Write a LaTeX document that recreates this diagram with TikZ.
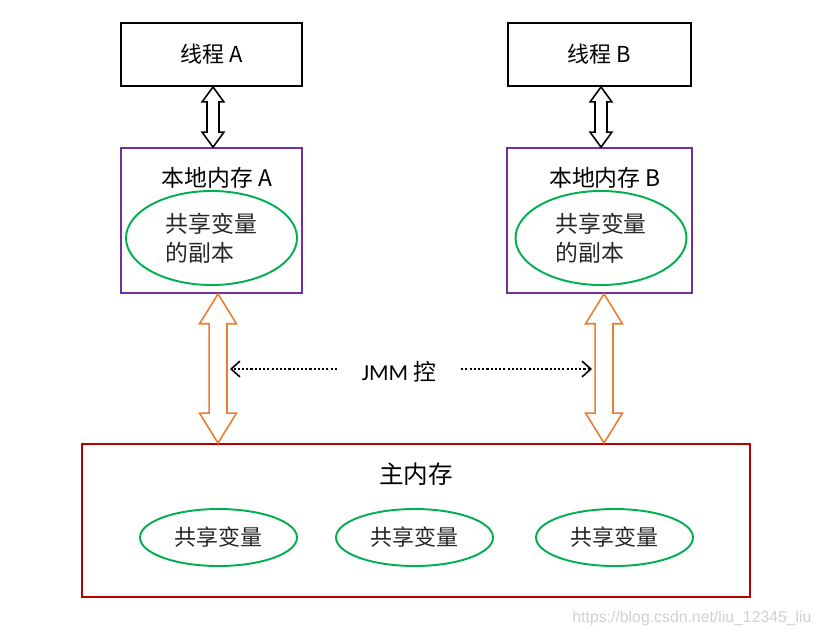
\documentclass[tikz,border=0pt]{standalone}
\usepackage{fontspec}
\setmainfont{Carlito}
\newfontfamily\cjk{Noto Sans CJK SC}
\newfontfamily\wmfont{Liberation Sans}
\usetikzlibrary{calc,arrows.meta,shapes.geometric}

\definecolor{localPurple}{HTML}{7030A0}
\definecolor{varGreen}{HTML}{00B050}
\definecolor{busOrange}{HTML}{ED7D31}
\definecolor{mainRed}{HTML}{B40000}

\newcommand{\px}{0.02cm}
% hollow vertical double arrow: style, top point, bottom point, half shaft, half head, head length
\newcommand{\hollowarrow}[6]{%
  \draw[#1] let \p1=(#2), \p2=(#3) in
    (\x1,\y1) -- (\x1+#5,\y1-#6) -- (\x1+#4,\y1-#6)
    -- (\x1+#4,\y2+#6) -- (\x1+#5,\y2+#6) -- (\x1,\y2)
    -- (\x1-#5,\y2+#6) -- (\x1-#4,\y2+#6)
    -- (\x1-#4,\y1-#6) -- (\x1-#5,\y1-#6) -- cycle;}

\begin{document}
\begin{tikzpicture}[x=0.02cm,y=-0.02cm,
    thread/.style={draw, line width=1.1pt, minimum width=181*\px,
      minimum height=63*\px, font=\fontsize{12.5}{15}\selectfont},
    local/.style={draw=localPurple, line width=1pt, minimum width=181*\px,
      minimum height=145*\px},
    title/.style={font=\fontsize{13}{15}\selectfont, inner sep=0pt},
    copyell/.style={ellipse, draw=varGreen, line width=1.1pt, minimum width=171*\px,
      minimum height=94*\px, inner sep=0pt, align=left,
      font=\fontsize{13}{16.5}\selectfont, text=black!85},
    mainbox/.style={draw=mainRed, line width=1.1pt, minimum width=668*\px,
      minimum height=153*\px},
    varell/.style={ellipse, draw=varGreen, line width=1.1pt, minimum width=157*\px,
      minimum height=57*\px, inner sep=0pt, font=\fontsize{12.5}{15}\selectfont,
      text=black!85},
    ctrl/.style={line width=1pt, dash pattern=on 1.2pt off 1.2pt,
      -{Straight Barb[length=5pt,width=9pt,line width=0.9pt]}},
    wmark/.style={font=\wmfont\fontsize{9}{11}\selectfont, text=black!18}]
  \fill[white] (0,0) rectangle (821,636);
  \useasboundingbox (0,0) rectangle (821,636);

  \node[thread] (thrA) at (211.5,54.5) {\cjk{线程} A};
  \node[thread, minimum width=183*\px] (thrB) at (599.5,54.5) {\cjk{线程} B};

  \node[local] (locA) at (211.5,220.5) {};
  \node[local, minimum width=185*\px] (locB) at (599.5,220.5) {};
  \node[title] (locAt) at (217,178) {\cjk{本地内存} A};
  \node[title] (locBt) at (605,178) {\cjk{本地内存} B};
  \node[copyell] (cpA) at (211.5,238) {\cjk{共享变量}\\\cjk{的副本}};
  \node[copyell] (cpB) at (601,238) {\cjk{共享变量}\\\cjk{的副本}};

  \node[mainbox] (mainMem) at (416,520.5) {};
  \node[font=\fontsize{14}{16}\selectfont] (mainT) at (416,474) {\cjk{主内存}};
  \node[varell] (var1) at (218.5,537.5) {\cjk{共享变量}};
  \node[varell] (var2) at (414.5,537.5) {\cjk{共享变量}};
  \node[varell] (var3) at (614.5,537.5) {\cjk{共享变量}};

  \hollowarrow{line width=0.9pt}{[xshift=1.5*\px]thrA.south}{locA.north}{3.4pt}{6.2pt}{8.5pt}
  \hollowarrow{line width=0.9pt}{[xshift=1.5*\px]thrB.south}{locB.north}{3.4pt}{6.2pt}{8.5pt}
  \hollowarrow{busOrange, line width=0.9pt}{[xshift=6.5*\px]locA.south}{mainMem.north}{5.1pt}{10.5pt}{17pt}
  \hollowarrow{busOrange, line width=0.9pt}{[xshift=4.5*\px]locB.south}{mainMem.north}{5.1pt}{10.5pt}{17pt}

  \node[font=\fontsize{13}{15}\selectfont, inner xsep=14pt] (jmm) at (399,372) {JMM \cjk{控}};
  \coordinate (jmmL) at (230,369);
  \coordinate (jmmR) at (592,369);
  \draw[ctrl] (jmm.west |- jmmL) -- (jmmL);
  \draw[ctrl] (jmm.east |- jmmR) -- (jmmR);

  \node[wmark] (wm) at (692,618) {https://blog.csdn.net/liu\_12345\_liu};
\end{tikzpicture}
\end{document}
